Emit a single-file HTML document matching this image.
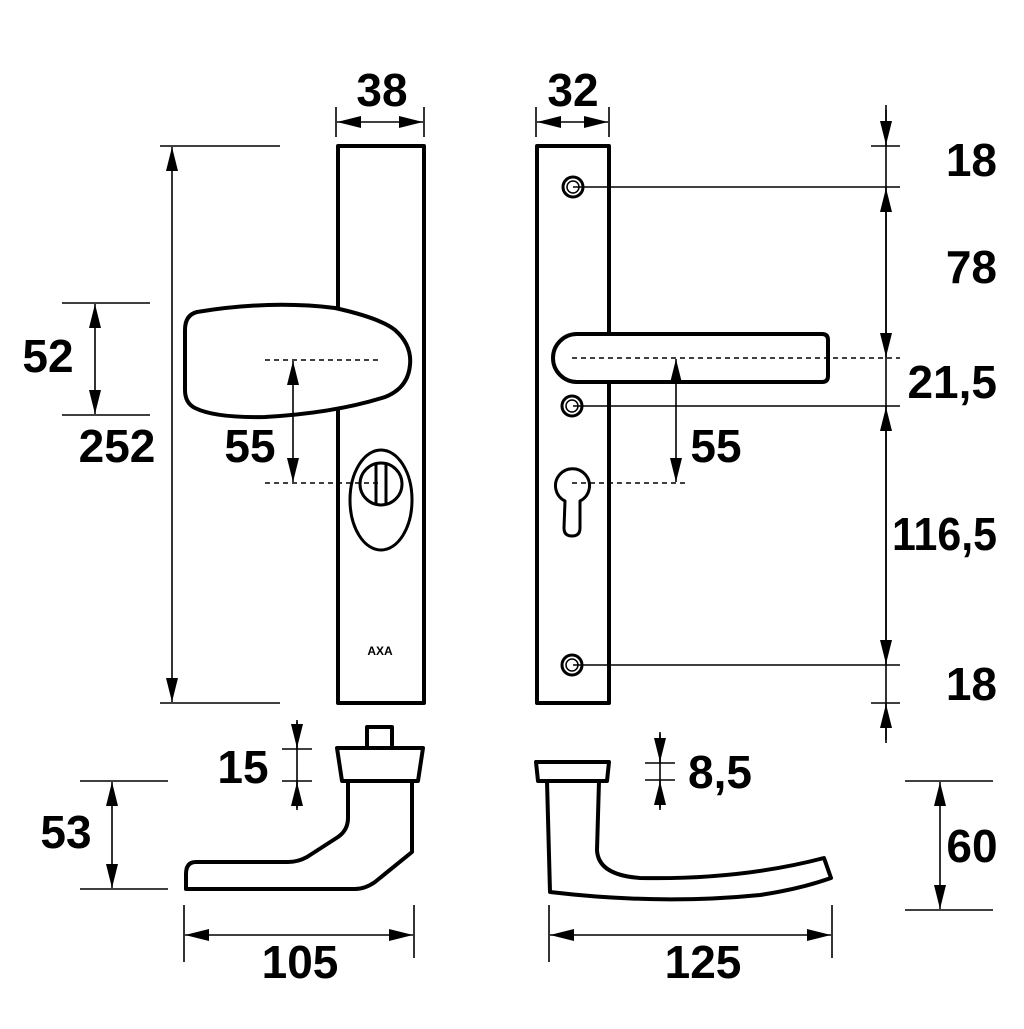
<!DOCTYPE html>
<html><head><style>html,body{margin:0;padding:0;background:#fff}</style></head>
<body>
<svg width="1024" height="1024" viewBox="0 0 1024 1024" xmlns="http://www.w3.org/2000/svg">
<defs>
<marker id="a" viewBox="0 0 24 12" refX="24" refY="6" markerWidth="24" markerHeight="12" markerUnits="userSpaceOnUse" orient="auto-start-reverse"><path d="M0,0 L24,6 L0,12 Z" fill="#000"/></marker>
</defs>
<g stroke="#000" fill="none" stroke-width="4" stroke-linejoin="round">
<rect x="338" y="146" width="86" height="557"/>
<rect x="537" y="146" width="72" height="557"/>
<path d="M197,312 Q270,300 335,308 Q380,318 395,330 Q412,345 410,365 Q408,388 385,397 Q335,413 265,417 Q215,418 195,408 Q185,403 185,390 L185,330 Q185,315 197,312 Z" fill="#fff"/>
<ellipse cx="381" cy="500" rx="31" ry="50" stroke-width="3"/>
<circle cx="381" cy="484" r="21" stroke-width="3"/>
<line x1="376" y1="463" x2="376" y2="505" stroke-width="3"/>
<line x1="386" y1="463" x2="386" y2="505" stroke-width="3"/>
<path d="M577,334 L822,334 Q828,334 828,340 L828,376 Q828,382 822,382 L577,382 A24,24 0 0 1 577,334 Z" fill="#fff"/>
<circle cx="573" cy="187" r="10" stroke-width="3"/><circle cx="573" cy="187" r="6" stroke-width="1.5"/>
<circle cx="572" cy="406" r="10" stroke-width="3"/><circle cx="572" cy="406" r="6" stroke-width="1.5"/>
<circle cx="572" cy="665" r="10" stroke-width="3"/><circle cx="572" cy="665" r="6" stroke-width="1.5"/>
<path d="M565,501 A17,17 0 1 1 580,501 L580,528 Q580,536 572,536 Q564,536 564,528 Z" stroke-width="3"/>
<rect x="367" y="727" width="25" height="21"/>
<path d="M337,748 L423,748 L418,781 L342,781 Z"/>
<path d="M348,781 L348,818 Q348,830 338,837 L307,857 Q298,862 288,862 L196,862 Q186,862 186,874 L186,889 L355,889 Q365,889 375,882 L412,852 L412,781"/>
<path d="M536,762 L609,762 L607,781 L538,781 Z"/>
<path d="M547,781 L550,892 Q660,905 760,895 Q800,889 831,878 L824,858 Q740,880 640,878 Q598,875 597,850 L599,781"/>
</g>
<g font-family="Liberation Sans, Arial, sans-serif" font-weight="bold" font-size="46" fill="#000">
<text x="382" y="106" text-anchor="middle">38</text>
<text x="573" y="106" text-anchor="middle">32</text>
<text x="48" y="372" text-anchor="middle">52</text>
<text x="117" y="462" text-anchor="middle">252</text>
<text x="250" y="462" text-anchor="middle">55</text>
<text x="716" y="462" text-anchor="middle">55</text>
<text x="997" y="176" text-anchor="end">18</text>
<text x="997" y="283" text-anchor="end">78</text>
<text x="997" y="398" text-anchor="end">21,5</text>
<text x="892" y="550" textLength="105" lengthAdjust="spacingAndGlyphs">116,5</text>
<text x="997" y="700" text-anchor="end">18</text>
<text x="243" y="783" text-anchor="middle">15</text>
<text x="720" y="788" text-anchor="middle">8,5</text>
<text x="66" y="848" text-anchor="middle">53</text>
<text x="972" y="862" text-anchor="middle">60</text>
<text x="300" y="978" text-anchor="middle">105</text>
<text x="703" y="978" text-anchor="middle">125</text>
<text x="380" y="655" text-anchor="middle" font-size="12">AXA</text>
</g>
<g stroke="#000" fill="none" stroke-width="1.6">
<line x1="336" y1="107" x2="336" y2="137"/><line x1="424" y1="107" x2="424" y2="137"/>
<line x1="337" y1="122" x2="423" y2="122" marker-start="url(#a)" marker-end="url(#a)"/>
<line x1="536" y1="107" x2="536" y2="137"/><line x1="609" y1="107" x2="609" y2="137"/>
<line x1="537" y1="122" x2="608" y2="122" marker-start="url(#a)" marker-end="url(#a)"/>
<line x1="160" y1="146" x2="280" y2="146"/><line x1="160" y1="703" x2="280" y2="703"/>
<line x1="172" y1="147" x2="172" y2="702" marker-start="url(#a)" marker-end="url(#a)"/>
<line x1="62" y1="303" x2="150" y2="303"/><line x1="62" y1="415" x2="150" y2="415"/>
<line x1="95" y1="304" x2="95" y2="414" marker-start="url(#a)" marker-end="url(#a)"/>
<line x1="265" y1="360" x2="382" y2="360" stroke-dasharray="5,4"/>
<line x1="265" y1="483" x2="382" y2="483" stroke-dasharray="5,4"/>
<line x1="293" y1="361" x2="293" y2="482" marker-start="url(#a)" marker-end="url(#a)"/>
<line x1="572" y1="358" x2="900" y2="358" stroke-dasharray="5,4"/>
<line x1="572" y1="483" x2="688" y2="483" stroke-dasharray="5,4"/>
<line x1="676" y1="359" x2="676" y2="482" marker-start="url(#a)" marker-end="url(#a)"/>
<line x1="573" y1="187" x2="900" y2="187"/>
<line x1="573" y1="406" x2="900" y2="406"/>
<line x1="573" y1="665" x2="900" y2="665"/>
<line x1="871" y1="146" x2="900" y2="146"/>
<line x1="871" y1="703" x2="900" y2="703"/>
<line x1="886" y1="105" x2="886" y2="743"/>
<line x1="886" y1="110" x2="886" y2="145" marker-end="url(#a)"/>
<line x1="886" y1="188" x2="886" y2="357" marker-start="url(#a)" marker-end="url(#a)"/>
<line x1="886" y1="407" x2="886" y2="664" marker-start="url(#a)" marker-end="url(#a)"/>
<line x1="886" y1="740" x2="886" y2="704" marker-end="url(#a)"/>
<line x1="282" y1="749" x2="312" y2="749"/><line x1="282" y1="781" x2="312" y2="781"/>
<line x1="297" y1="720" x2="297" y2="810"/>
<line x1="297" y1="722" x2="297" y2="748" marker-end="url(#a)"/>
<line x1="297" y1="808" x2="297" y2="782" marker-end="url(#a)"/>
<line x1="645" y1="763" x2="675" y2="763"/><line x1="645" y1="780" x2="675" y2="780"/>
<line x1="660" y1="732" x2="660" y2="810"/>
<line x1="660" y1="734" x2="660" y2="762" marker-end="url(#a)"/>
<line x1="660" y1="808" x2="660" y2="781" marker-end="url(#a)"/>
<line x1="80" y1="781" x2="168" y2="781"/><line x1="80" y1="889" x2="168" y2="889"/>
<line x1="112" y1="782" x2="112" y2="888" marker-start="url(#a)" marker-end="url(#a)"/>
<line x1="905" y1="781" x2="993" y2="781"/><line x1="905" y1="910" x2="993" y2="910"/>
<line x1="940" y1="782" x2="940" y2="909" marker-start="url(#a)" marker-end="url(#a)"/>
<line x1="184" y1="905" x2="184" y2="962"/><line x1="414" y1="905" x2="414" y2="958"/>
<line x1="185" y1="935" x2="413" y2="935" marker-start="url(#a)" marker-end="url(#a)"/>
<line x1="549" y1="905" x2="549" y2="962"/><line x1="832" y1="905" x2="832" y2="958"/>
<line x1="550" y1="935" x2="831" y2="935" marker-start="url(#a)" marker-end="url(#a)"/>
</g>
</svg>
</body></html>
